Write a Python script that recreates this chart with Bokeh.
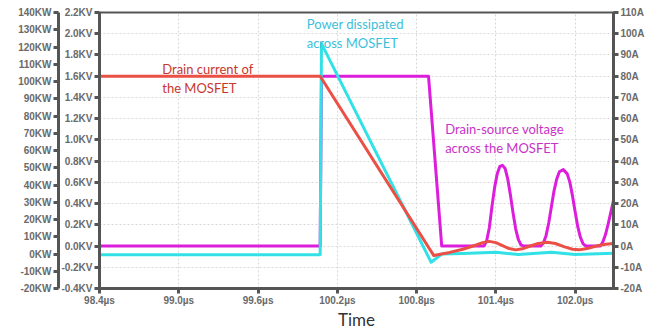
from bokeh.plotting import figure
from bokeh.models import Range1d, LinearAxis, FixedTicker, CustomJSTickFormatter, Label
from bokeh.embed import file_html
from bokeh.resources import INLINE

# ---- data ----
# Drain-source voltage (KV)
t_vds = [98.4, 100.07, 100.08, 100.89, 100.99,
         101.31, 101.33, 101.35, 101.37, 101.39, 101.41, 101.43, 101.45, 101.47, 101.49, 101.51,
         101.53, 101.55, 101.57, 101.59, 101.61,
         101.74, 101.76, 101.78, 101.80, 101.82, 101.84, 101.86, 101.88, 101.91, 101.94, 101.96,
         101.98, 102.00, 102.02, 102.04, 102.06, 102.08,
         102.19, 102.21, 102.23, 102.25, 102.27, 102.29]
vds_kv = [0.0, 0.0, 1.6, 1.6, 0.0,
          0.0, 0.05, 0.17, 0.37, 0.55, 0.68, 0.75, 0.76, 0.73, 0.63, 0.48,
          0.31, 0.16, 0.06, 0.01, 0.0,
          0.0, 0.03, 0.10, 0.22, 0.37, 0.52, 0.63, 0.70, 0.72, 0.68, 0.60,
          0.47, 0.32, 0.18, 0.08, 0.02, 0.0,
          0.0, 0.04, 0.11, 0.21, 0.32, 0.43]
# Drain current (A)
t_id = [98.4, 100.07, 100.93, 101.05, 101.15, 101.25, 101.30, 101.35, 101.40, 101.45, 101.50,
        101.55, 101.60, 101.66, 101.72, 101.79, 101.85, 101.92, 101.98, 102.03, 102.09, 102.16,
        102.23, 102.29]
id_a = [80, 80, -4.5, -3.0, -1.5, 0.5, 1.6, 2.2, 1.6, 0.2, -1.2,
        -1.8, -1.3, 0.0, 1.2, 1.8, 1.2, -0.4, -1.5, -1.8, -1.2, 0.0,
        0.8, 1.2]
# Power dissipated (KW)
t_p = [98.4, 100.07, 100.08, 100.91, 100.99, 101.15, 101.40, 101.57, 101.82, 102.0, 102.29]
p_kw = [-0.5, -0.5, 122, -4.8, 0.0, 0.3, 1.0, -0.3, 1.0, -0.3, 0.5]

# ticks
x_ticks = [98.4, 99.0, 99.6, 100.2, 100.8, 101.4, 102.0]
x_labels = ["98.4µs", "99.0µs", "99.6µs", "100.2µs", "100.8µs", "101.4µs", "102.0µs"]
v_ticks = [-0.4, -0.2, 0.0, 0.2, 0.4, 0.6, 0.8, 1.0, 1.2, 1.4, 1.6, 1.8, 2.0, 2.2]
v_labels = ["-0.4KV", "-0.2KV", "0.0KV", "0.2KV", "0.4KV", "0.6KV", "0.8KV", "1.0KV", "1.2KV",
            "1.4KV", "1.6KV", "1.8KV", "2.0KV", "2.2KV"]
p_ticks = [-20, -10, 0, 10, 20, 30, 40, 50, 60, 70, 80, 90, 100, 110, 120, 130, 140]
p_labels = ["-20KW", "-10KW", "0KW", "10KW", "20KW", "30KW", "40KW", "50KW", "60KW", "70KW", "80KW",
            "90KW", "100KW", "110KW", "120KW", "130KW", "140KW"]
a_ticks = [-20, -10, 0, 10, 20, 30, 40, 50, 60, 70, 80, 90, 100, 110]
a_labels = ["-20A", "-10A", "0A", "10A", "20A", "30A", "40A", "50A", "60A", "70A", "80A", "90A",
            "100A", "110A"]

MAG = "#DC1EDC"
RED = "#EB5046"
CYA = "#32E1E6"
AX = "#555555"
TL = "#6a6a6a"


def fmt(tv, tl):
    return CustomJSTickFormatter(args=dict(tv=tv, tl=tl), code="""
        for (let i = 0; i < tv.length; i++) {
            if (Math.abs(tv[i] - tick) < 1e-6) return tl[i];
        }
        return '';
    """)


def style_axis(ax, tv, tl):
    ax.ticker = FixedTicker(ticks=tv)
    ax.formatter = fmt(tv, tl)
    ax.axis_line_color = AX
    ax.axis_line_width = 3
    ax.major_tick_line_color = AX
    ax.major_tick_line_width = 3
    ax.major_tick_out = 5
    ax.major_tick_in = 0
    ax.minor_tick_line_color = None
    ax.major_label_text_font = "Liberation Sans"
    ax.major_label_text_font_style = "bold"
    ax.major_label_text_font_size = "10px"
    ax.major_label_text_color = TL
    ax.major_label_standoff = 2


p = figure(width=647, height=333, output_backend="svg", toolbar_location=None,
           x_range=Range1d(98.4, 102.29), y_range=Range1d(-0.4, 2.2),
           min_border_left=99, min_border_right=32, min_border_top=12, min_border_bottom=45)
p.extra_y_ranges = {"pw": Range1d(-20, 140), "cur": Range1d(-20, 110)}

style_axis(p.xaxis[0], x_ticks, x_labels)
style_axis(p.yaxis[0], v_ticks, v_labels)
p.xaxis[0].major_label_standoff = 1
p.xaxis[0].axis_label = "Time"
p.xaxis[0].axis_label_text_font = "Lato"
p.xaxis[0].axis_label_text_font_size = "17px"
p.xaxis[0].axis_label_text_font_style = "normal"
p.xaxis[0].axis_label_text_color = "#333333"
p.xaxis[0].axis_label_standoff = 0

pax = LinearAxis(y_range_name="pw")
style_axis(pax, p_ticks, p_labels)
p.add_layout(pax, "left")

aax = LinearAxis(y_range_name="cur")
style_axis(aax, a_ticks, a_labels)
p.add_layout(aax, "right")

p.xgrid.ticker = FixedTicker(ticks=x_ticks)
p.ygrid.ticker = FixedTicker(ticks=v_ticks)
for g in (p.xgrid[0], p.ygrid[0]):
    g.grid_line_color = "#d8d8d8"
    g.grid_line_dash = "2 2"
    g.grid_line_width = 1

p.outline_line_color = AX
p.outline_line_width = 2
p.background_fill_color = "white"
p.border_fill_color = "white"

p.line(t_vds, vds_kv, line_color=MAG, line_width=3, line_join="round")
p.line(t_p, p_kw, line_color=CYA, line_width=3, y_range_name="pw", line_join="round")
p.line(t_id, id_a, line_color=RED, line_width=3, y_range_name="cur", line_join="round")

notes = [
    ("Power dissipated", 99.968, 2.096, "#3BBFDA"),
    ("across MOSFET", 99.968, 1.908, "#3BBFDA"),
    ("Drain current of", 98.875, 1.672, "#C8372D"),
    ("the MOSFET", 98.875, 1.493, "#C8372D"),
    ("Drain-source voltage", 101.016, 1.107, "#C832C8"),
    ("across the MOSFET", 101.016, 0.928, "#C832C8"),
]
for txt, x, y, c in notes:
    p.add_layout(Label(x=x, y=y, text=txt, text_color=c, text_font="Lato", text_font_size="13px",
                       text_baseline="middle", text_align="left"))

open("out.html", "w").write(file_html(p, INLINE))
